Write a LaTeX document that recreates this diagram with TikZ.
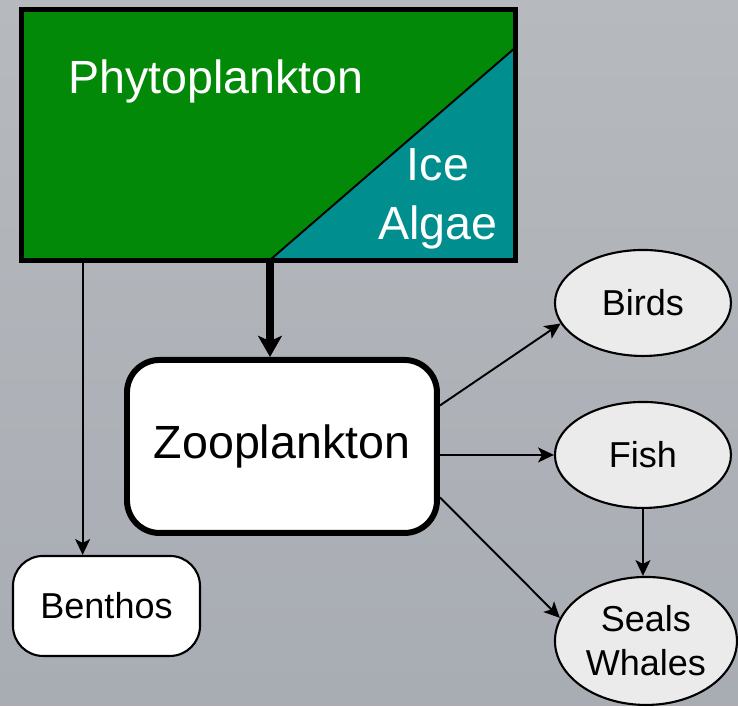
\documentclass[tikz,border=0pt]{standalone}
\usepackage{fontspec}
\setmainfont{Liberation Sans}
\usetikzlibrary{arrows.meta, positioning, shapes.geometric, calc}
\definecolor{phytogreen}{RGB}{2,137,8}
\definecolor{icealgae}{RGB}{0,142,142}
\definecolor{seabg}{RGB}{182,186,190}
\definecolor{seabgdark}{RGB}{168,172,179}
\definecolor{animalfill}{RGB}{235,235,235}
\tikzset{
  phytobox/.style  = {rectangle, fill=phytogreen, minimum width=9.86cm,
                      minimum height=5cm, inner sep=0pt},
  zoobox/.style    = {rectangle, draw=black, line width=3.4pt, rounded corners=0.65cm,
                      fill=white, minimum width=6.2cm, minimum height=3.46cm,
                      font=\fontsize{26.5}{32}\selectfont},
  benthbox/.style  = {rectangle, draw=black, line width=1.2pt, rounded corners=0.6cm,
                      fill=white, minimum width=3.74cm, minimum height=2cm,
                      font=\fontsize{20.5}{25}\selectfont},
  animal/.style    = {ellipse, draw=black, line width=1.2pt, fill=animalfill,
                      minimum width=3.52cm, minimum height=2.12cm, inner sep=0pt,
                      align=center, font=\fontsize{20.5}{25}\selectfont},
  flow/.style      = {-{Stealth[length=9pt, width=8.5pt, inset=2.2pt]}, line width=1.1pt},
  bigflow/.style   = {-{Stealth[length=12pt, width=13.5pt, inset=3pt]}, line width=4.2pt},
  whitetext/.style = {text=white, align=center, font=\fontsize{26.5}{33.5}\selectfont},
}
\begin{document}
\begin{tikzpicture}
  % sea background
  \shade[top color=seabg, bottom color=seabgdark] (0,0) rectangle (14.76,14.12);
  % primary producers
  \node[phytobox] (phyto) at (5.37,11.42) {};
  \coordinate (split) at (5.40,8.92);
  \fill[icealgae] (split) -- (phyto.south east) -- ([yshift=-0.76cm]phyto.north east) -- cycle;
  \draw[line width=1.1pt] (split) -- ([yshift=-0.76cm]phyto.north east);
  \draw[line width=2.8pt] (phyto.south west) rectangle (phyto.north east);
  \node[whitetext] (phytolabel) at (4.32,12.50) {Phytoplankton};
  \node[whitetext] (icelabel) at (8.76,10.15) {Ice\\Algae};
  % consumers
  \node[zoobox] (zoo) at (5.64,5.19) {Zooplankton};
  \node[benthbox] (benthos) at (2.13,2.00) {Benthos};
  \node[animal] (birds) at (12.86,8.06) {Birds};
  \node[animal] (fish) at (12.86,5.02) {Fish};
  \node[animal, minimum width=3.64cm, minimum height=2.56cm] (seals) at (12.92,1.30) {Seals\\Whales};
  % arrows
  \draw[flow] ([xshift=1.22cm]phyto.south west) -- ([xshift=1.22cm]phyto.south west |- benthos.north);
  \draw[bigflow] (split) -- (split |- zoo.north);
  \draw[flow] ([yshift=0.82cm]zoo.east) -- (birds.194);
  \draw[flow] (zoo.east |- fish.west) -- (fish.west);
  \draw[flow] ([yshift=-1.02cm]zoo.east) -- (seals.165);
  \draw[flow] (fish.south) -- (fish.south |- seals.north);
\end{tikzpicture}
\end{document}
